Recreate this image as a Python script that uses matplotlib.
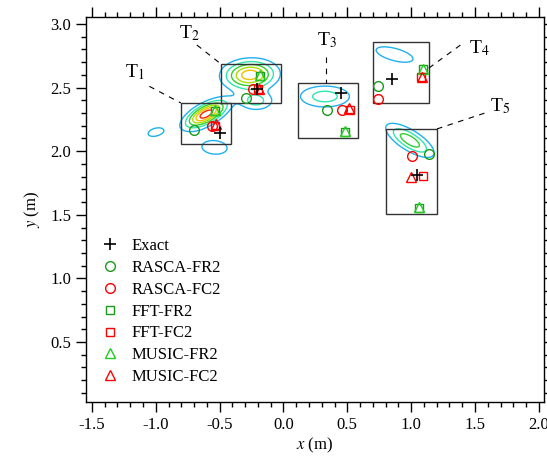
import numpy as np
import matplotlib.pyplot as plt
from matplotlib.patches import Rectangle
from matplotlib.ticker import MultipleLocator

plt.rcParams['font.family'] = ['Liberation Serif', 'DejaVu Serif']
plt.rcParams['mathtext.fontset'] = 'stix'
plt.rcParams['axes.unicode_minus'] = False

# target regions (boxes), T1..T5
box_x0 = [-0.803, -0.490, 0.113, 0.700, 0.802]
box_x1 = [-0.411, -0.022, 0.583, 1.139, 1.202]
box_y0 = [2.057, 2.379, 2.104, 2.379, 1.506]
box_y1 = [2.379, 2.686, 2.536, 2.858, 2.175]

# label text positions and leader line ends
lab_x = [-1.163, -0.733, 0.340, 1.538, 1.695]
lab_y = [2.623, 2.929, 2.874, 2.811, 2.355]
lead_x0 = [-1.050, -0.678, 0.332, 1.139, 1.202]
lead_y0 = [2.510, 2.835, 2.741, 2.654, 2.175]
lead_x1 = [-0.803, -0.490, 0.332, 1.397, 1.601]
lead_y1 = [2.379, 2.686, 2.536, 2.843, 2.308]

# estimated positions per method (T1..T5)
exact_x = [-0.498, -0.208, 0.450, 0.849, 1.045]
exact_y = [2.143, 2.489, 2.458, 2.568, 1.813]
rfr_x = [-0.701, -0.294, 0.340, 0.740, 1.139]
rfr_y = [2.167, 2.418, 2.324, 2.513, 1.978]
rfc_x = [-0.560, -0.239, 0.458, 0.740, 1.006]
rfc_y = [2.198, 2.489, 2.324, 2.410, 1.962]
ffr_x = [-0.537, -0.184, 0.481, 1.092, 1.061]
ffr_y = [2.316, 2.591, 2.151, 2.646, 1.553]
ffc_x = [-0.537, -0.200, 0.520, 1.076, 1.092]
ffc_y = [2.198, 2.489, 2.324, 2.583, 1.805]
mfr_x = [-0.537, -0.184, 0.481, 1.092, 1.061]
mfr_y = [2.324, 2.599, 2.159, 2.646, 1.561]
mfc_x = [-0.529, -0.192, 0.513, 1.084, 0.998]
mfc_y = [2.214, 2.489, 2.340, 2.583, 1.797]

# image blobs: centre, amplitude, widths, angle (deg)
blob_x = [-0.605, -0.263, -0.215, 0.325, 0.870, 0.990, -1.000, -0.540]
blob_y = [2.292, 2.600, 2.395, 2.430, 2.760, 2.085, 2.150, 2.030]
blob_a = [1.00, 0.85, 0.36, 0.38, 0.22, 0.55, 0.20, 0.20]
blob_sx = [0.115, 0.128, 0.090, 0.140, 0.170, 0.135, 0.080, 0.130]
blob_sy = [0.048, 0.072, 0.050, 0.060, 0.055, 0.050, 0.040, 0.070]
blob_ang = [28, 3, 0, 0, -15, -32, 15, -5]

levels = [0.15, 0.30, 0.45, 0.60, 0.75, 0.90]
level_colors = ['#1FB0F0', '#2EE6B0', '#30D030', '#A8E000', '#F0C000', '#FF2000']

xx, yy = np.meshgrid(np.linspace(-1.6, 2.1, 600), np.linspace(0.0, 3.1, 600))
zz = np.zeros_like(xx)
for cx, cy, a, sx, sy, ang in zip(blob_x, blob_y, blob_a, blob_sx, blob_sy, blob_ang):
    t = np.deg2rad(ang)
    u = (xx - cx) * np.cos(t) + (yy - cy) * np.sin(t)
    v = -(xx - cx) * np.sin(t) + (yy - cy) * np.cos(t)
    zz += a * np.exp(-0.5 * ((u / sx) ** 2 + (v / sy) ** 2))

fig, ax = plt.subplots(figsize=(5.47, 4.65), dpi=100)
fig.subplots_adjust(left=0.157, right=0.9945, top=0.9634, bottom=0.1355)

ax.contour(xx, yy, zz, levels=levels, colors=level_colors, linewidths=1.0, zorder=2)

for i in range(5):
    ax.add_patch(Rectangle((box_x0[i], box_y0[i]), box_x1[i] - box_x0[i],
                           box_y1[i] - box_y0[i], fill=False, ec='#333333', lw=1.0, zorder=3))
    ax.plot([lead_x0[i], lead_x1[i]], [lead_y0[i], lead_y1[i]], color='k',
            ls=(0, (5, 5)), lw=0.8, zorder=3)
    ax.text(lab_x[i], lab_y[i], r'T$_%d$' % (i + 1), fontsize=14,
            ha='center', va='center', zorder=4)

ms = 7
ax.plot(exact_x, exact_y, ls='none', marker='+', ms=ms + 1, mew=1.2, color='k', label='Exact', zorder=6)
ax.plot(rfr_x, rfr_y, ls='none', marker='o', ms=ms, mfc='none', mew=1.0, color='#1a9a1a', label='RASCA-FR2', zorder=5)
ax.plot(rfc_x, rfc_y, ls='none', marker='o', ms=ms, mfc='none', mew=1.0, color='#ff0000', label='RASCA-FC2', zorder=5)
ax.plot(ffr_x, ffr_y, ls='none', marker='s', ms=ms - 1, mfc='none', mew=1.0, color='#1a9a1a', label='FFT-FR2', zorder=5)
ax.plot(ffc_x, ffc_y, ls='none', marker='s', ms=ms - 1, mfc='none', mew=1.0, color='#ff0000', label='FFT-FC2', zorder=5)
ax.plot(mfr_x, mfr_y, ls='none', marker='^', ms=ms, mfc='none', mew=1.0, color='#22cc22', label='MUSIC-FR2', zorder=5)
ax.plot(mfc_x, mfc_y, ls='none', marker='^', ms=ms, mfc='none', mew=1.0, color='#ff0000', label='MUSIC-FC2', zorder=5)

ax.set_xlim(-1.547, 2.04)
ax.set_ylim(0.028, 3.055)
ax.xaxis.set_major_locator(MultipleLocator(0.5))
ax.xaxis.set_minor_locator(MultipleLocator(0.1))
ax.yaxis.set_major_locator(MultipleLocator(0.5))
ax.yaxis.set_minor_locator(MultipleLocator(0.1))
ax.xaxis.set_major_formatter('{x:.1f}')
ax.yaxis.set_major_formatter('{x:.1f}')
ax.tick_params(which='both', direction='out', top=True, right=True, labelsize=12, width=1.0)
ax.tick_params(which='major', length=7)
ax.tick_params(which='minor', length=3.5)
for s in ax.spines.values():
    s.set_linewidth(1.0)

ax.set_xlabel(r'$x$ (m)', fontsize=12, labelpad=2)
ax.set_ylabel(r'$y$ (m)', fontsize=12, labelpad=6)

leg = ax.legend(loc='lower left', bbox_to_anchor=(-0.003, 0.005), frameon=False,
                fontsize=12, labelspacing=0.35, handletextpad=0.75, handlelength=1.2)

fig.savefig('out.png', dpi=100)
